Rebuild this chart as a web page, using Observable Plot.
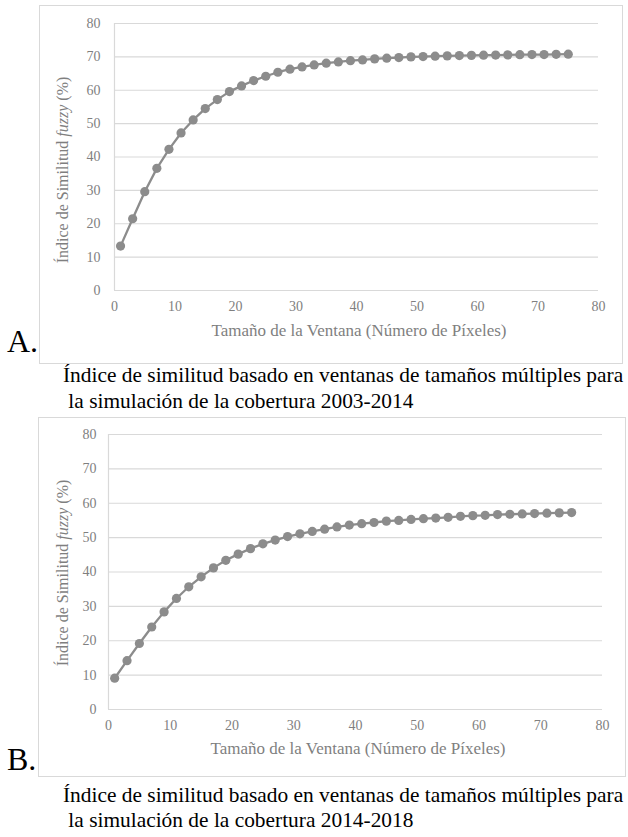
<!DOCTYPE html>
<html>
<head>
<meta charset="utf-8">
<script src="https://cdn.jsdelivr.net/npm/d3@7"></script>
<script src="https://cdn.jsdelivr.net/npm/@observablehq/plot@0.6"></script>
<style>
  html, body { margin: 0; padding: 0; background: #fff; }
  #page { position: relative; width: 628px; height: 837px; font-family: "Liberation Serif", "DejaVu Serif", serif; overflow: hidden; }
  .box { position: absolute; border: 1px solid #d9d9d9; box-sizing: border-box; }
  .abs { position: absolute; white-space: nowrap; line-height: 1; }
  .plot { position: absolute; }
  .ytitle { position: absolute; white-space: nowrap; line-height: 1; color: #7f7f7f; transform: translate(-50%, -50%) rotate(-90deg); }
  .xtitle { position: absolute; white-space: nowrap; line-height: 1; color: #7f7f7f; transform: translateX(-50%); }
  .cap { color: #000; font-size: 21.4px; }
  .letter { color: #000; font-size: 32px; }
</style>
</head>
<body>
<div id="page"></div>
<script>
// Window sizes (pixels)
const windowSizes = [1, 3, 5, 7, 9, 11, 13, 15, 17, 19, 21, 23, 25, 27, 29, 31, 33, 35, 37,
  39, 41, 43, 45, 47, 49, 51, 53, 55, 57, 59, 61, 63, 65, 67, 69, 71, 73, 75];
// A: 2003-2014 fuzzy similarity (%)
const simA = [13.3, 21.5, 29.6, 36.6, 42.3, 47.2, 51.1, 54.5, 57.2, 59.6, 61.3, 62.9, 64.2, 65.4,
  66.3, 67.0, 67.6, 68.1, 68.5, 68.85, 69.1, 69.4, 69.6, 69.8, 70.0, 70.1, 70.2, 70.3, 70.4,
  70.45, 70.5, 70.55, 70.6, 70.65, 70.7, 70.7, 70.75, 70.8];
// B: 2014-2018 fuzzy similarity (%)
const simB = [9.1, 14.2, 19.2, 24.0, 28.4, 32.3, 35.7, 38.6, 41.2, 43.4, 45.2, 46.8, 48.2, 49.3,
  50.3, 51.1, 51.8, 52.45, 53.1, 53.65, 54.05, 54.4, 54.8, 55.0, 55.3, 55.5, 55.7, 55.9, 56.2,
  56.4, 56.5, 56.7, 56.8, 56.9, 57.0, 57.1, 57.2, 57.3];
const xTicks = [0, 10, 20, 30, 40, 50, 60, 70, 80];
const yTicks = [0, 10, 20, 30, 40, 50, 60, 70, 80];
const xTitle = "Tamaño de la Ventana (Número de Píxeles)";
const yTitleParts = ["Índice de Similitud ", "fuzzy", " (%)"];
const panelLetters = ["A.", "B."];
const captionsA = ["Índice de similitud basado en ventanas de tamaños múltiples para", " la simulación de la cobertura 2003-2014"];
const captionsB = ["Índice de similitud basado en ventanas de tamaños múltiples para", " la simulación de la cobertura 2014-2018"];

const page = document.getElementById("page");
function el(cls, css, html) {
  const d = document.createElement("div");
  d.className = cls;
  Object.assign(d.style, css);
  if (html !== undefined) d.innerHTML = html;
  page.appendChild(d);
  return d;
}

function chart(values, cfg) {
  const data = windowSizes.map((w, i) => ({ w, v: values[i] }));
  const p = Plot.plot({
    width: cfg.width, height: cfg.height,
    marginLeft: cfg.ml, marginRight: cfg.mr, marginTop: cfg.mt, marginBottom: cfg.mb,
    style: { fontFamily: "Liberation Serif", background: "transparent", color: "#7f7f7f", overflow: "visible" },
    x: { domain: [0, 80], ticks: xTicks },
    y: { domain: [0, 80], ticks: yTicks },
    marks: [
      Plot.gridY(yTicks, { stroke: "#d9d9d9", strokeOpacity: 1, strokeWidth: 1.2 }),
      Plot.ruleX([0], { stroke: "#d9d9d9", strokeWidth: 1.2 }),
      Plot.axisX(xTicks, { tickSize: 0, tickPadding: cfg.xpad, fontSize: cfg.tickFs, fill: "#7f7f7f", label: null }),
      Plot.axisY(yTicks, { tickSize: 0, tickPadding: cfg.ypad, fontSize: cfg.tickFs, fill: "#7f7f7f", label: null }),
      Plot.line(data, { x: "w", y: "v", stroke: "#8c8c8c", strokeWidth: 2.3 }),
      Plot.dot(data, { x: "w", y: "v", r: 4.6, fill: "#8c8c8c", stroke: "none" })
    ]
  });
  p.classList.add("plot");
  p.style.left = cfg.left + "px";
  p.style.top = cfg.top + "px";
  el("box", { left: cfg.left + "px", top: cfg.top + "px", width: cfg.width + "px", height: cfg.height + "px" });
  page.appendChild(p);
  // axis titles
  el("xtitle", { left: cfg.xtx + "px", top: cfg.xty + "px", fontSize: cfg.xtitleFs + "px" }, xTitle);
  el("ytitle", { left: cfg.ytx + "px", top: cfg.yty + "px", fontSize: cfg.ytitleFs + "px" },
    yTitleParts[0] + "<i>" + yTitleParts[1] + "</i>" + yTitleParts[2]);
}

chart(simA, { left: 39, top: 5, width: 584, height: 359, ml: 75, mr: 25, mt: 18, mb: 74,
  xpad: 11, ypad: 14, tickFs: 14, xtitleFs: 17, ytitleFs: 16, xtx: 359, xty: 322, ytx: 63, yty: 170 });
chart(simB, { left: 38, top: 417, width: 588, height: 360, ml: 70, mr: 24, mt: 17, mb: 68,
  xpad: 11, ypad: 12, tickFs: 14, xtitleFs: 17, ytitleFs: 16, xtx: 358, xty: 740, ytx: 63, yty: 573 });

// panel letters
el("abs letter", { left: "7px", top: "325px" }, panelLetters[0]);
el("abs letter", { left: "7px", top: "743px" }, panelLetters[1]);
// captions
el("abs cap", { left: "63px", top: "365px" }, captionsA[0]);
el("abs cap", { left: "63px", top: "391px", whiteSpace: "pre" }, captionsA[1]);
el("abs cap", { left: "63px", top: "785px" }, captionsB[0]);
el("abs cap", { left: "63px", top: "810px", whiteSpace: "pre" }, captionsB[1]);
</script>
</body>
</html>
